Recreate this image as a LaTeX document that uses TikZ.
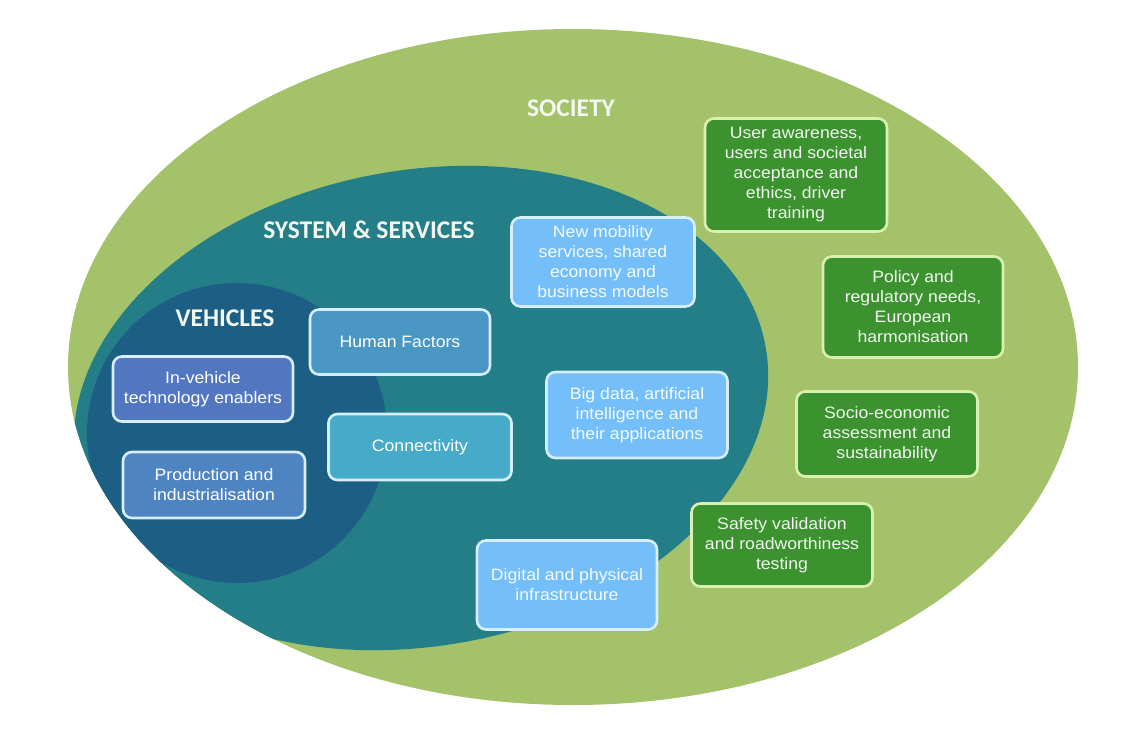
\documentclass[tikz,border=0pt]{standalone}
\usepackage{fontspec}
\setmainfont{Liberation Sans}
\newfontfamily\titlefont{Carlito}
\newfontfamily\boxfont[FakeStretch=1.07]{Liberation Sans}
\definecolor{societyc}{HTML}{A4C26A}
\definecolor{systemc}{HTML}{237E88}
\definecolor{vehiclec}{HTML}{1D5F84}
\definecolor{invehc}{HTML}{5077C0}
\definecolor{prodc}{HTML}{4F84C2}
\definecolor{humanc}{HTML}{4A97C4}
\definecolor{connc}{HTML}{46ABC8}
\definecolor{lightc}{HTML}{74BFFA}
\definecolor{greenc}{HTML}{3B922E}
\definecolor{gborder}{HTML}{D8F0B0}
\definecolor{bborder}{HTML}{D6EEFF}
\definecolor{labc}{HTML}{F2F7F0}
\tikzset{
  boxbase/.style={rounded corners=9pt, line width=2.6pt, align=center, inner sep=2pt,
    font=\boxfont\fontsize{16.5}{20}\selectfont},
  vbox/.style={boxbase, draw=bborder, text=white},
  lbox/.style={boxbase, draw=bborder, fill=lightc, text=white!92!lightc},
  gbox/.style={boxbase, draw=gborder, fill=greenc, text=white!92!greenc},
  lab/.style={text=labc, font=\titlefont\bfseries\fontsize{25.5}{30}\selectfont, inner sep=0pt}
}
\begin{document}
\begin{tikzpicture}[x=1pt, y=-1pt]
\useasboundingbox (0,0) rectangle (1134,744);
% ellipses
\fill[societyc] (573,367) ellipse [x radius=505pt, y radius=338pt];
\begin{scope}
  \clip (573,367) ellipse [x radius=505pt, y radius=338pt];
  \fill[systemc, rotate around={10:(421,408)}] (421,408) ellipse [x radius=350pt, y radius=238pt];
  \fill[vehiclec] (237,433) ellipse [x radius=150pt, y radius=150pt];
\end{scope}
% titles
\node[lab] (society) at (571,108) {SOCIETY};
\node[lab] (system) at (369,230) {SYSTEM \& SERVICES};
\node[lab] (vehicles) at (225,318) {VEHICLES};
% vehicle boxes
\node[vbox, fill=invehc, minimum width=180pt, minimum height=65pt] (inveh) at (203,389) {In-vehicle\\technology enablers};
\node[vbox, fill=prodc, minimum width=182pt, minimum height=66pt] (prod) at (214,485) {Production and\\industrialisation};
\node[vbox, fill=humanc, minimum width=180pt, minimum height=65pt] (human) at (400,342) {Human Factors};
\node[vbox, fill=connc, minimum width=183pt, minimum height=66pt] (conn) at (420,447) {Connectivity};
% system boxes
\node[lbox, minimum width=183pt, minimum height=89pt] (mobility) at (603,262) {New mobility\\services, shared\\economy and\\business models};
\node[lbox, minimum width=181pt, minimum height=86pt] (bigdata) at (637,415) {Big data, artificial\\intelligence and\\their applications};
\node[lbox, minimum width=180pt, minimum height=89pt] (digital) at (567,585) {Digital and physical\\infrastructure};
% society boxes
\node[gbox, minimum width=182pt, minimum height=113pt] (user) at (796,175) {User awareness,\\users and societal\\acceptance and\\ethics, driver\\training};
\node[gbox, minimum width=180pt, minimum height=101pt] (policy) at (913,307) {Policy and\\regulatory needs,\\European\\harmonisation};
\node[gbox, minimum width=181pt, minimum height=85pt] (socio) at (887,434) {Socio-economic\\assessment and\\sustainability};
\node[gbox, minimum width=181pt, minimum height=83pt] (safety) at (782,545) {Safety validation\\and roadworthiness\\testing};
\end{tikzpicture}
\end{document}
